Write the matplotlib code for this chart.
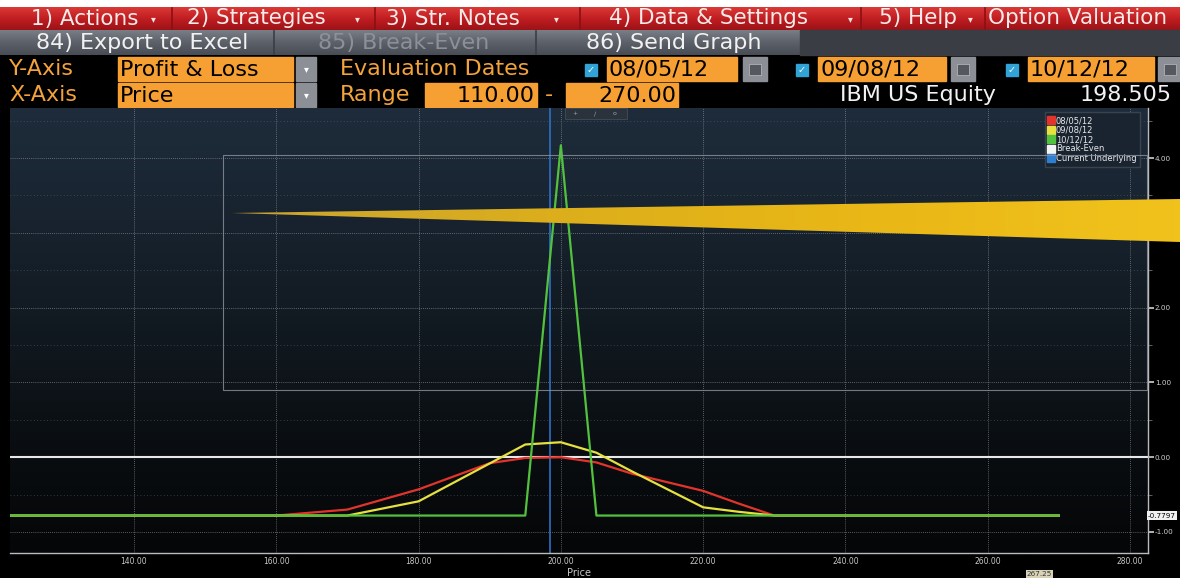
import numpy as np
import matplotlib
matplotlib.use("Agg")
import matplotlib.pyplot as plt
from matplotlib.patches import Rectangle, Polygon
from matplotlib.lines import Line2D
from matplotlib.colors import LinearSegmentedColormap

# ---------------- data ----------------
x_0805 = [110, 160, 170, 180, 190, 195, 200, 205, 210, 220, 225, 230, 270]
pl_0805 = [-0.78, -0.78, -0.70, -0.43, -0.08, -0.01, 0.00, -0.07, -0.22, -0.45, -0.62, -0.78, -0.78]

x_0908 = [110, 170, 180, 195, 200, 205, 210, 220, 225, 230, 270]
pl_0908 = [-0.78, -0.78, -0.59, 0.17, 0.20, 0.06, -0.19, -0.67, -0.73, -0.78, -0.78]

x_1012 = [110, 195, 200, 205, 270]
pl_1012 = [-0.78, -0.78, 4.17, -0.78, -0.78]

break_even = 0.0
current_underlying = 198.505
max_loss = -0.7797
crosshair_x = "267.25"

x_ticks = [140, 160, 180, 200, 220, 240, 260, 280]
y_ticks = [-1, 0, 1, 2, 3, 4]
eval_dates = ["08/05/12", "09/08/12", "10/12/12"]
series_colors = ["#e3342c", "#e6e040", "#52c23e"]

W, H = 1180, 578
FONT = "DejaVu Sans"
FS_MENU = 15.5
FS = 16
ORANGE = "#f6a033"
ORANGE_TXT = "#f4a23a"

fig = plt.figure(figsize=(W / 100, H / 100), dpi=100, facecolor="black")

# ---------------- background / header axes (pixel coords) ----------------
bg = fig.add_axes([0, 0, 1, 1], zorder=0)
bg.set_xlim(0, W)
bg.set_ylim(H, 0)
bg.axis("off")
bg.set_facecolor("black")

def grad(ax, x0, x1, y0, y1, colors, zorder=0):
    cmap = LinearSegmentedColormap.from_list("g", colors)
    g = np.linspace(0, 1, 256).reshape(-1, 1)
    ax.imshow(g, extent=[x0, x1, y1, y0], cmap=cmap, aspect="auto",
              interpolation="bilinear", zorder=zorder)

def arrow(x, y, color="#f0e0e0"):
    bg.text(x, y, "\u25be", color=color, fontsize=7, family="DejaVu Sans",
            ha="center", va="center", zorder=3)

# white strip at top
bg.add_patch(Rectangle((0, 0), W, 7, color="white", zorder=1))
# red menu bar
grad(bg, 0, W, 7, 30, ["#dc3a36", "#c01e22", "#9c1216"], zorder=1)
for sx in [172, 375, 580, 861, 985]:
    bg.plot([sx, sx], [8, 29], color="#8a1014", lw=1.2, zorder=2)
menu = [(31, "1) Actions", 153), (187, "2) Strategies", 357),
        (386, "3) Str. Notes", 556), (609, "4) Data & Settings", 850),
        (879, "5) Help", 970), (988, "Option Valuation", None)]
for mx, t, ax_ in menu:
    bg.text(mx, 18.5, t, color="#f4ecea", fontsize=FS_MENU, family=FONT,
            va="center", ha="left", zorder=3)
    if ax_ is not None:
        arrow(ax_, 19)

# gray button bar
grad(bg, 0, 800, 30, 55, ["#7a7e86", "#5c6068", "#484c54"], zorder=1)
bg.add_patch(Rectangle((800, 30), W - 800, 25, color="#3a3d44", zorder=1))
for sx in [274, 536]:
    bg.plot([sx, sx], [31, 54], color="#3a3d44", lw=1.2, zorder=2)
bg.text(36, 43, "84) Export to Excel", color="#f2f2f2", fontsize=FS, family=FONT,
        va="center", ha="left", zorder=3)
bg.text(318, 43, "85) Break-Even", color="#8d9098", fontsize=FS, family=FONT,
        va="center", ha="left", zorder=3)
bg.text(586, 43, "86) Send Graph", color="#f2f2f2", fontsize=FS, family=FONT,
        va="center", ha="left", zorder=3)

# rows 3/4
def field(x0, x1, y0, y1, txt, ha="left"):
    bg.add_patch(Rectangle((x0, y0), x1 - x0, y1 - y0, color=ORANGE, zorder=1))
    tx = x0 + 2 if ha == "left" else x1 - 2
    bg.text(tx, (y0 + y1) / 2 + 0.5, txt, color="black", fontsize=FS, family=FONT,
            va="center", ha=ha, zorder=3)

def button(x0, x1, y0, y1, kind):
    bg.add_patch(Rectangle((x0, y0), x1 - x0, y1 - y0, color="#8c9096", zorder=1))
    if kind == "drop":
        bg.text((x0 + x1) / 2, (y0 + y1) / 2, "\u25be", color="white", fontsize=7,
                family="DejaVu Sans", ha="center", va="center", zorder=3)
    else:
        bg.add_patch(Rectangle((x0 + 6, y0 + 7), x1 - x0 - 12, y1 - y0 - 13,
                               facecolor="#55585e", edgecolor="#d0d0d0", lw=0.4, zorder=2))

def checkbox(x0, yc):
    bg.add_patch(Rectangle((x0, yc - 6), 12, 12, color="#31a3d6", zorder=1))
    bg.text(x0 + 6, yc, "\u2713", color="white", fontsize=7, family="DejaVu Sans",
            ha="center", va="center", zorder=3, fontweight="bold")

bg.text(9, 69, "Y-Axis", color=ORANGE_TXT, fontsize=FS, family=FONT, va="center", zorder=3)
bg.text(9, 95, "X-Axis", color=ORANGE_TXT, fontsize=FS, family=FONT, va="center", zorder=3)
field(118, 293, 57, 81, "Profit & Loss")
field(118, 293, 83, 107, "Price")
button(296, 316, 57, 81, "drop")
button(296, 316, 83, 107, "drop")
bg.text(340, 69, "Evaluation Dates", color=ORANGE_TXT, fontsize=FS, family=FONT,
        va="center", zorder=3)
bg.text(340, 95, "Range", color=ORANGE_TXT, fontsize=FS, family=FONT, va="center", zorder=3)
field(425, 537, 83, 107, "110.00", ha="right")
bg.text(549, 95, "-", color=ORANGE_TXT, fontsize=FS, family=FONT, va="center",
        ha="center", zorder=3)
field(566, 678, 83, 107, "270.00", ha="right")

date_slots = [(585, 607, 737, 743, 767), (796, 818, 946, 951, 975), (1006, 1028, 1154, 1158, 1182)]
for (cbx, fx0, fx1, bx0, bx1), d in zip(date_slots, eval_dates):
    checkbox(cbx, 70)
    field(fx0, fx1, 57, 81, d)
    button(bx0, bx1, 57, 81, "cal")

bg.text(840, 95, "IBM US Equity", color="#f2f2f2", fontsize=FS, family=FONT,
        va="center", zorder=3)
bg.text(1080, 95, "198.505", color="#f2f2f2", fontsize=FS, family=FONT,
        va="center", zorder=3)

# plot-area gradient
PL, PR, PT, PB = 10, 1148, 108, 553
grad(bg, PL, PR, PT, PB, ["#1e2c3b", "#18232f", "#111920", "#0a0e12", "#050607"], zorder=1)

# ---------------- data axes ----------------
px_per_x = (1130 - 134) / 140.0
x_left = 140 - (134 - PL) / px_per_x
x_right = 280 + (PR - 1130) / px_per_x
px_per_y = (532 - 158) / 5.0
y0_px = 457.2
y_top = (y0_px - PT) / px_per_y
y_bot = -(PB - y0_px) / px_per_y

ax = fig.add_axes([PL / W, 1 - PB / H, (PR - PL) / W, (PB - PT) / H], zorder=1)
ax.set_facecolor("none")
ax.set_xlim(x_left, x_right)
ax.set_ylim(y_bot, y_top)

# grid
for xv in x_ticks:
    ax.axvline(xv, color="#9aa0a8", lw=0.6, ls=(0, (1, 1.5)), alpha=0.75, zorder=1)
for yv in y_ticks:
    ax.axhline(yv, color="#9aa0a8", lw=0.6, ls=(0, (1, 1.5)), alpha=0.75, zorder=1)
for yv in np.arange(-0.5, 4.6, 1.0):
    ax.axhline(yv, color="#6a7078", lw=0.6, ls=(0, (1, 3)), alpha=0.6, zorder=1)

# break-even and current underlying
ax.axhline(break_even, color="#e8e8e8", lw=1.5, zorder=2)
ax.axvline(current_underlying, color="#2f6fc4", lw=1.2, zorder=2)

ax.plot(x_0805, pl_0805, color=series_colors[0], lw=1.6, zorder=4)
ax.plot(x_0908, pl_0908, color=series_colors[1], lw=1.6, zorder=5)
ax.plot(x_1012, pl_1012, color=series_colors[2], lw=1.6, zorder=6)

for s in ["left", "top"]:
    ax.spines[s].set_visible(False)
for s in ["right", "bottom"]:
    ax.spines[s].set_color("#b8bcc0")
    ax.spines[s].set_linewidth(1.0)

ax.yaxis.tick_right()
ax.set_yticks(y_ticks)
ax.set_yticklabels([f"{v:.2f}" for v in y_ticks])
ax.set_yticks(np.arange(-0.5, 4.6, 1.0), minor=True)
ax.tick_params(axis="y", which="major", direction="out", length=4, width=1.2,
               colors="#d0d0d0", labelsize=5.2, pad=1)
ax.tick_params(axis="y", which="minor", direction="out", length=3, width=0.6,
               colors="#707070")
ax.set_xticks(x_ticks)
ax.set_xticklabels([f"{v:.2f}" for v in x_ticks])
ax.tick_params(axis="x", direction="out", length=0, colors="#c8c8c8", labelsize=5.5, pad=3)
ax.set_xlabel("Price", color="#c8c8c8", fontsize=7, labelpad=1)

# max loss label
ax.text(1.0, (max_loss - y_bot) / (y_top - y_bot), f"{max_loss:.4f}", transform=ax.transAxes,
        color="black", fontsize=5.2, ha="left", va="center", clip_on=False, zorder=8,
        bbox=dict(boxstyle="square,pad=0.15", fc="#f0f0f0", ec="none"))
ax.text(267.25, -0.04, crosshair_x, transform=ax.get_xaxis_transform(), color="#333333",
        fontsize=5.2, ha="center", va="top", clip_on=False, zorder=8,
        bbox=dict(boxstyle="square,pad=0.15", fc="#d8d2b6", ec="none"))

# legend
handles = [Line2D([], [], marker="s", ls="none", color=c, markersize=5.5) for c in
           series_colors + ["#f4f4f4", "#2f7fd0"]]
labels = eval_dates + ["Break-Even", "Current Underlying"]
leg = ax.legend(handles, labels, loc="upper right", bbox_to_anchor=(0.993, 0.99),
                fontsize=6, frameon=True, facecolor="#1a2430", edgecolor="#39434e",
                framealpha=1, handlelength=0.6, handletextpad=0.25, labelspacing=0.05,
                borderpad=0.45, borderaxespad=0, fancybox=False)
for t in leg.get_texts():
    t.set_color("#e8e8e8")
leg.set_zorder(9)

# ---------------- overlay (pixel coords) ----------------
top = fig.add_axes([0, 0, 1, 1], zorder=2)
top.set_xlim(0, W)
top.set_ylim(H, 0)
top.axis("off")
top.patch.set_alpha(0)
# selection rectangle
top.add_patch(Rectangle((223, 155), 1147 - 223, 390 - 155, fill=False,
                        edgecolor="#8d949c", lw=0.8, alpha=0.8))
# small toolbar
top.add_patch(Rectangle((565, 108), 62, 11, facecolor="#2a323c", edgecolor="#4a525c", lw=0.5))
for i, g in enumerate(["+", "\u2215", "o"]):
    top.text(575 + i * 20, 113.5, g, color="#a0a8b0", fontsize=4.5, family="DejaVu Sans",
             ha="center", va="center")
# yellow wedge (gradient: pale tip to bright gold)
wedge = Polygon([[232, 213], [1180, 199], [1180, 242]], closed=True,
                facecolor="none", edgecolor="none")
top.add_patch(wedge)
wcmap = LinearSegmentedColormap.from_list("w", ["#c9a432", "#dcae1c", "#e9b716", "#f1c21c"])
wimg = top.imshow(np.linspace(0, 1, 256).reshape(1, -1), extent=[232, 1180, 245, 196],
                  cmap=wcmap, aspect="auto", interpolation="bilinear", zorder=3)
wimg.set_clip_path(wedge)

fig.savefig("out.png", dpi=100, facecolor="black")
